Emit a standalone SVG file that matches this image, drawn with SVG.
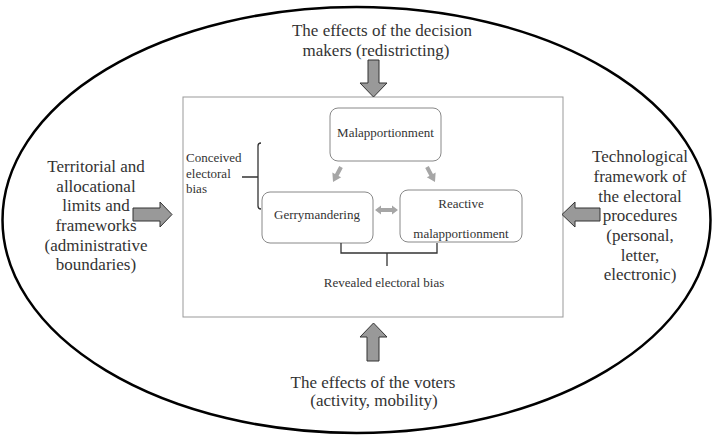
<svg xmlns="http://www.w3.org/2000/svg" width="713" height="436" viewBox="0 0 713 436">
<style>
text{font-family:"Liberation Serif","Times New Roman",serif;fill:#333}
.big{font-size:17px;text-anchor:middle}
.sm{font-size:13px}
.c{text-anchor:middle}
.box{fill:#fff;stroke:#888;stroke-width:1}
.blk{fill:#999;stroke:#333;stroke-width:1}
.sa{fill:#a6a6a6}
.br{fill:none;stroke:#333;stroke-width:1.3}
</style>
<defs>
<path id="sarrow" d="M-2,0 L2,0 L2,9 L5,9 L0,17 L-5,9 L-2,9 Z"/>
</defs>
<rect width="713" height="436" fill="#fff"/>
<ellipse cx="356.5" cy="220" rx="354" ry="213" fill="none" stroke="#000" stroke-width="2.5"/>
<rect x="183" y="97" width="380" height="220" fill="none" stroke="#999" stroke-width="1"/>

<g id="top-text">
<text class="big" x="382" y="36">The effects of the decision</text>
<text class="big" x="376" y="56">makers (redistricting)</text>
</g>
<g id="left-text" class="big">
<text class="big" x="96" y="172">Territorial and</text>
<text class="big" x="96" y="192">allocational</text>
<text class="big" x="96" y="211">limits and</text>
<text class="big" x="96" y="231">frameworks</text>
<text class="big" x="96" y="251">(administrative</text>
<text class="big" x="96" y="270">boundaries)</text>
</g>
<g id="right-text">
<text class="big" x="640" y="162">Technological</text>
<text class="big" x="640" y="182">framework of</text>
<text class="big" x="640" y="202">the electoral</text>
<text class="big" x="640" y="221">procedures</text>
<text class="big" x="640" y="241">(personal,</text>
<text class="big" x="640" y="261">letter,</text>
<text class="big" x="640" y="280">electronic)</text>
</g>
<g id="bottom-text">
<text class="big" x="373" y="388">The effects of the voters</text>
<text class="big" x="374" y="406">(activity, mobility)</text>
</g>

<g id="malapportionment">
<rect class="box" x="330" y="108" width="111" height="53" rx="8"/>
<text class="sm c" x="385.5" y="136.5">Malapportionment</text>
</g>
<g id="gerrymandering">
<rect class="box" x="262" y="192" width="111" height="51" rx="8"/>
<text class="sm c" x="317" y="218.5">Gerrymandering</text>
</g>
<g id="reactive">
<rect class="box" x="400" y="190" width="122" height="52" rx="8"/>
<text class="sm c" x="461" y="207.5">Reactive</text>
<text class="sm c" x="461" y="238">malapportionment</text>
</g>
<g id="conceived">
<text class="sm" x="186" y="162">Conceived</text>
<text class="sm" x="186" y="178">electoral</text>
<text class="sm" x="186" y="193">bias</text>
</g>
<g id="revealed">
<text class="sm c" x="384" y="287">Revealed electoral bias</text>
</g>

<g id="connectors">
<polygon class="blk" points="368,60 379,60 379,83 387,83 373.5,97 360,83 368,83"/>
<polygon class="blk" points="373.5,323 387,337 379,337 379,361 367,361 367,337 360,337"/>
<polygon class="blk" points="133,208 160,208 160,202 172,214.5 160,227 160,221 133,221"/>
<polygon class="blk" points="562,214.5 575,202 575,208 600,208 600,221 575,221 575,227"/>
<use href="#sarrow" class="sa" transform="translate(341,167) rotate(28)"/>
<use href="#sarrow" class="sa" transform="translate(427,167) rotate(-28)"/>
<polygon class="sa" points="375,210 381,205.5 381,208 392,208 392,205.5 398,210 392,214.5 392,212 381,212 381,214.5"/>
<path class="br" d="M261,143 Q258,143 258,146 L258,206 Q258,209 261,209 M242,177 L258,177"/>
<path class="br" d="M341,243 L341,253 L437,253 L437,243 M387,253 L387,266"/>
</g>
</svg>
